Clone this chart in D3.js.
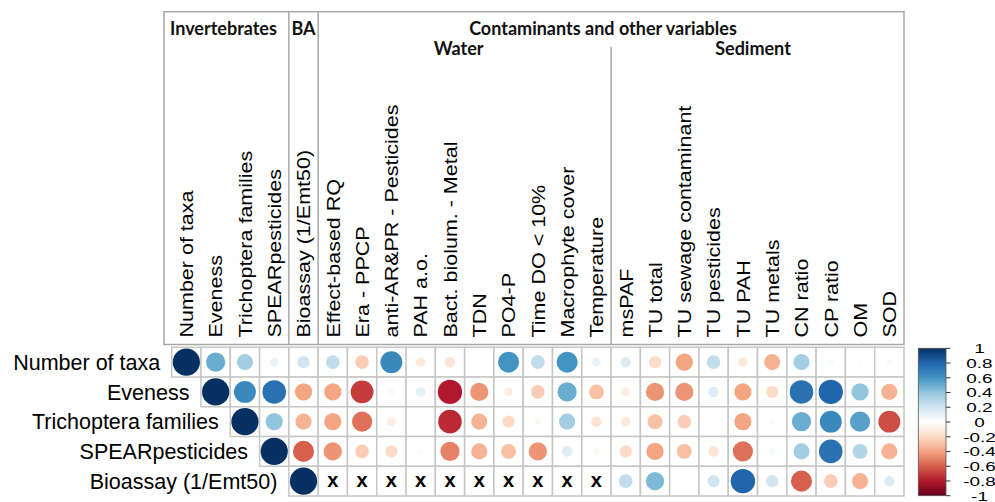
<!DOCTYPE html>
<html>
<head>
<meta charset="utf-8">
<script src="https://cdn.jsdelivr.net/npm/d3@7"></script>
<style>
  html, body { margin: 0; padding: 0; background: #fff; }
  svg { display: block; }
</style>
</head>
<body>
<svg id="chart" width="995" height="502"></svg>
<script>
// ---------------- DATA ----------------
const rowLabels = ["Number of taxa", "Eveness", "Trichoptera families", "SPEARpesticides", "Bioassay (1/Emt50)"];
const colLabels = ["Number of taxa", "Eveness", "Trichoptera families", "SPEARpesticides", "Bioassay (1/Emt50)",
  "Effect-based RQ", "Era - PPCP", "anti-AR&PR - Pesticides", "PAH a.o.", "Bact. biolum. - Metal",
  "TDN", "PO4-P", "Time DO < 10%", "Macrophyte cover", "Temperature",
  "msPAF", "TU total", "TU sewage contaminant", "TU pesticides", "TU PAH",
  "TU metals", "CN ratio", "CP ratio", "OM", "SOD"];

// each row starts at its diagonal cell; null = not available (x)
const numberOfTaxa = [1, 0.5, 0.35, 0.1, 0.2, 0.25, -0.25, 0.65, -0.12, -0.15,
  0.02, 0.6, 0.25, 0.6, 0.1, 0.15, -0.2, -0.4, 0.25, -0.12, -0.35, 0.35, 0.05, 0.02, 0.04];
const eveness = [1, 0.65, 0.75, -0.4, -0.4, -0.7, -0.05, 0.12, -0.8,
  -0.45, -0.1, -0.25, 0.5, -0.3, -0.1, -0.45, -0.45, 0.15, -0.4, -0.2, 0.75, 0.8, 0.4, -0.35];
const trichopteraFamilies = [1, 0.4, -0.35, -0.4, -0.55, -0.1, 0.01, -0.75,
  -0.35, -0.2, -0.05, 0.35, -0.15, -0.12, -0.3, -0.25, 0.02, -0.4, 0.03, 0.5, 0.65, 0.55, -0.65];
const spearPesticides = [1, -0.6, -0.45, -0.25, -0.2, -0.03, -0.5,
  -0.35, -0.3, -0.45, 0.15, -0.05, -0.2, -0.4, -0.3, -0.15, -0.55, 0.05, 0.35, 0.75, 0.3, -0.35];
const bioassay = [1, null, null, null, null, null,
  null, null, null, null, null, 0.25, 0.45, 0.02, 0.2, 0.8, 0.2, -0.6, -0.25, -0.35, 0.15];
const rowValues = [numberOfTaxa, eveness, trichopteraFamilies, spearPesticides, bioassay];

const legendTickValues = [1, 0.8, 0.6, 0.4, 0.2, 0, -0.2, -0.4, -0.6, -0.8, -1];
const legendTickLabels = ["1", "0.8", "0.6", "0.4", "0.2", "0", "-0.2", "-0.4", "-0.6", "-0.8", "-1"];

const groupTop = [
  { label: "Invertebrates", from: 0, to: 3 },
  { label: "BA", from: 4, to: 4 },
  { label: "Contaminants and other variables", from: 5, to: 24 }
];
const groupSub = [
  { label: "Water", from: 5, to: 14 },
  { label: "Sediment", from: 15, to: 24 }
];

const palette = ["#67001F", "#B2182B", "#D6604D", "#F4A582", "#FDDBC7", "#FFFFFF",
  "#D1E5F0", "#92C5DE", "#4393C3", "#2166AC", "#053061"];

// ---------------- LAYOUT ----------------
const svg = d3.select("#chart");
const gridLeft = 171.7, gridRight = 904, gridTop = 347.3, gridBottom = 496;
const x = d3.scaleBand().domain(colLabels).range([gridLeft, gridRight]);
const y = d3.scaleBand().domain(rowLabels).range([gridTop, gridBottom]);
const color = d3.scaleLinear().domain(d3.range(11).map(i => -1 + i * 0.2)).range(palette);
const cw = x.bandwidth(), ch = y.bandwidth();
const rScale = d3.scaleSqrt().domain([0, 1]).range([0, 13.6]);

const cells = [];
rowValues.forEach((vals, i) => {
  vals.forEach((v, k) => {
    cells.push({ row: rowLabels[i], col: colLabels[i + k], v: v });
  });
});

// header box
const boxLeft = 164, boxTop = 11.7, boxBottom = 344.5, boxRight = 904;
const hdr = svg.append("g").attr("stroke", "#a8a8a8").attr("stroke-width", 1.5).attr("fill", "none");
hdr.append("rect").attr("x", boxLeft).attr("y", boxTop).attr("width", boxRight - boxLeft).attr("height", boxBottom - boxTop);
[4, 5].forEach(ci => {
  hdr.append("line").attr("x1", x(colLabels[ci])).attr("x2", x(colLabels[ci]))
    .attr("y1", boxTop).attr("y2", boxBottom);
});
hdr.append("line").attr("x1", x(colLabels[15])).attr("x2", x(colLabels[15]))
  .attr("y1", 46.7).attr("y2", boxBottom);

const headFont = "Lato, 'Open Sans', sans-serif";
const headSize = 18;
svg.append("text").text(groupTop[0].label).attr("x", 170).attr("y", 35)
  .attr("font-family", headFont).attr("font-weight", "bold").attr("font-size", headSize).attr("fill", "#111");
svg.append("text").text(groupTop[1].label)
  .attr("x", x(colLabels[groupTop[1].from]) + cw / 2).attr("y", 35).attr("text-anchor", "middle")
  .attr("font-family", headFont).attr("font-weight", "bold").attr("font-size", headSize).attr("fill", "#111");
svg.append("text").text(groupTop[2].label).attr("x", 603).attr("y", 35).attr("text-anchor", "middle")
  .attr("font-family", headFont).attr("font-weight", "bold").attr("font-size", headSize).attr("fill", "#111");
svg.append("text").text(groupSub[0].label).attr("x", 458.7).attr("y", 54.5).attr("text-anchor", "middle")
  .attr("font-family", headFont).attr("font-weight", "bold").attr("font-size", headSize).attr("fill", "#111");
svg.append("text").text(groupSub[1].label).attr("x", 753).attr("y", 54.5).attr("text-anchor", "middle")
  .attr("font-family", headFont).attr("font-weight", "bold").attr("font-size", headSize).attr("fill", "#111");

// column labels
const labFont = "'Liberation Sans', Arial, sans-serif";
svg.append("g").selectAll("text").data(colLabels).join("text")
  .attr("transform", d => `translate(${x(d) + cw / 2},337.5) rotate(-90) scale(1,0.88)`)
  .attr("dy", "0.36em")
  .attr("font-family", labFont).attr("font-size", 21.5).attr("fill", "#000")
  .text(d => d);

// row labels
svg.append("g").selectAll("text").data(rowLabels).join("text")
  .attr("x", (d, i) => x(colLabels[i]) - 11.5)
  .attr("y", d => y(d) + ch / 2)
  .attr("dy", "0.36em")
  .attr("text-anchor", "end")
  .attr("font-family", labFont).attr("font-size", 21.5).attr("fill", "#000")
  .text(d => d);

// grid cells
svg.append("g").selectAll("rect").data(cells).join("rect")
  .attr("x", d => x(d.col)).attr("y", d => y(d.row))
  .attr("width", cw).attr("height", ch)
  .attr("fill", "#fff").attr("stroke", "#c6c6c6").attr("stroke-width", 1.5);

// circles
svg.append("g").selectAll("circle").data(cells.filter(d => d.v !== null)).join("circle")
  .attr("cx", d => x(d.col) + cw / 2).attr("cy", d => y(d.row) + ch / 2)
  .attr("r", d => rScale(Math.abs(d.v)))
  .attr("fill", d => color(d.v));

// NA marks
svg.append("g").selectAll("text").data(cells.filter(d => d.v === null)).join("text")
  .attr("x", d => x(d.col) + cw / 2).attr("y", d => y(d.row) + ch / 2)
  .attr("dy", "0.3em").attr("text-anchor", "middle")
  .attr("font-family", labFont).attr("font-weight", "bold").attr("font-size", 20).attr("fill", "#000")
  .text("x");

// legend
const lgX = 918.3, lgW = 27.7;
const ly = d3.scaleLinear().domain([-1, 1]).range([495.7, 348.3]);
const defs = svg.append("defs");
const grad = defs.append("linearGradient").attr("id", "lg").attr("x1", 0).attr("x2", 0).attr("y1", 1).attr("y2", 0);
d3.range(0, 1.0001, 0.05).forEach(t => {
  grad.append("stop").attr("offset", t).attr("stop-color", color(-1 + 2 * t));
});
svg.append("rect").attr("x", lgX).attr("y", ly(1)).attr("width", lgW).attr("height", ly(-1) - ly(1))
  .attr("fill", "url(#lg)").attr("stroke", "#555").attr("stroke-width", 0.8);
const lg = svg.append("g");
lg.selectAll("line").data(legendTickValues).join("line")
  .attr("x1", lgX + lgW).attr("x2", lgX + lgW + 4.5)
  .attr("y1", d => ly(d)).attr("y2", d => ly(d))
  .attr("stroke", "#333").attr("stroke-width", 1);
lg.selectAll("text").data(legendTickValues).join("text")
  .attr("transform", d => `translate(979.5,${ly(d)}) scale(1.4,1)`)
  .attr("dy", "0.36em").attr("text-anchor", "middle")
  .attr("font-family", labFont).attr("font-size", 13.5).attr("fill", "#000")
  .text((d, i) => legendTickLabels[i]);
</script>
</body>
</html>
